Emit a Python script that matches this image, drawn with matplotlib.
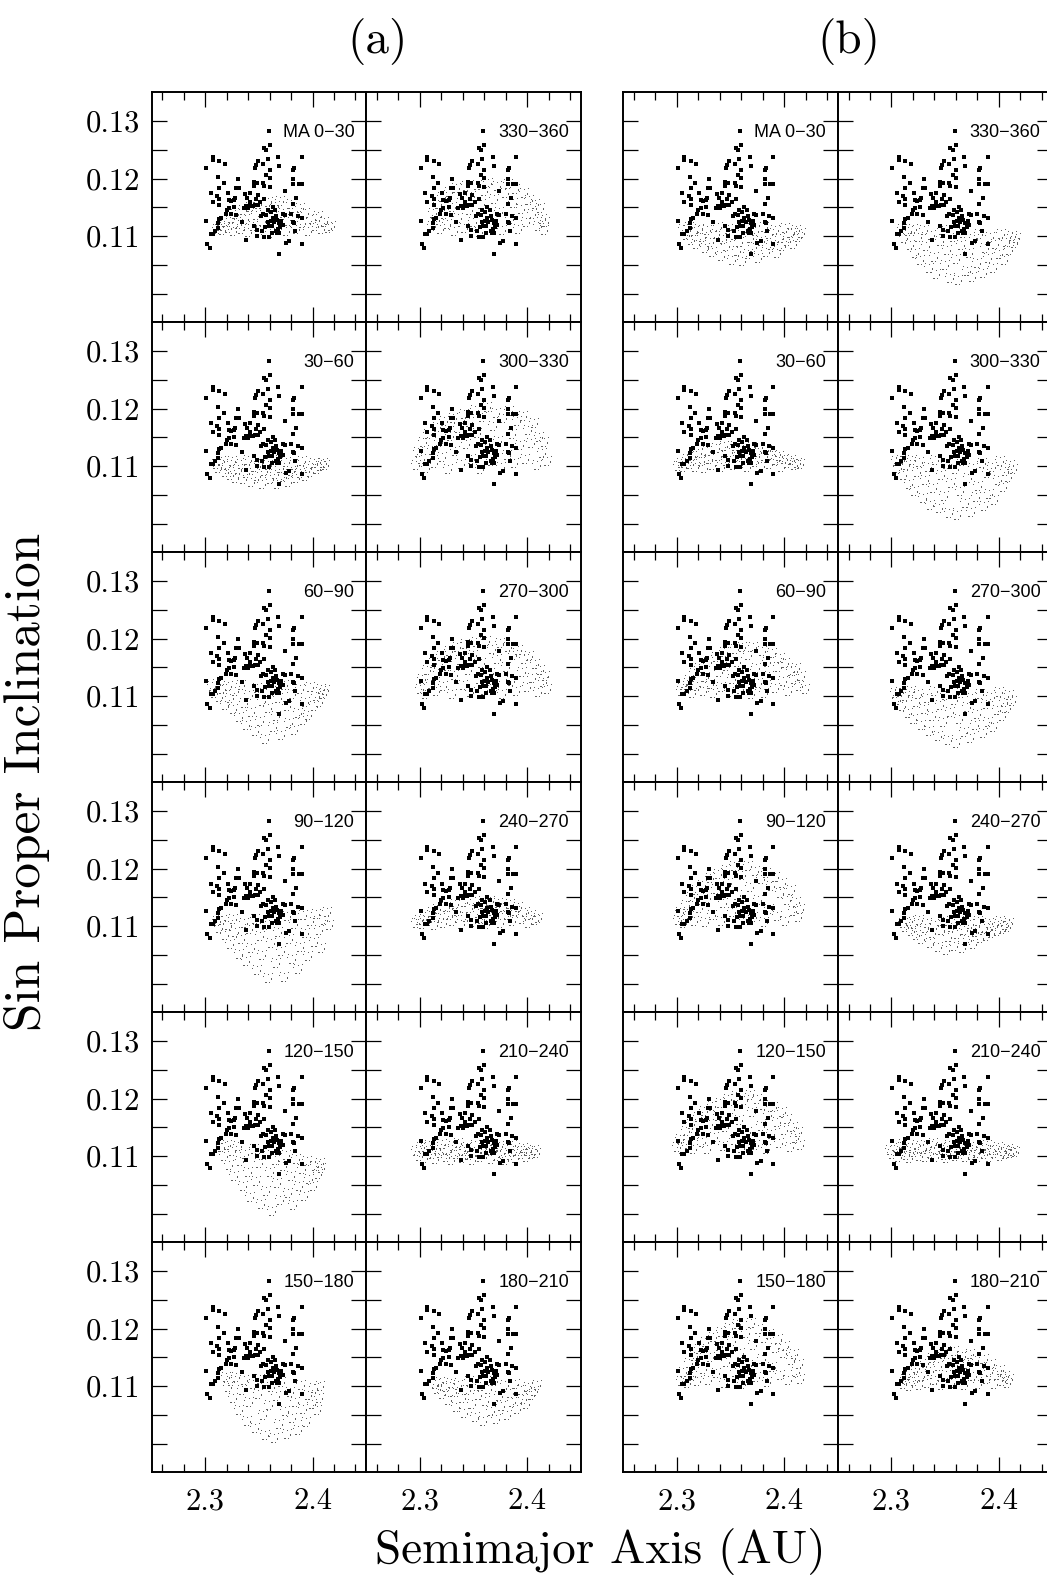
import matplotlib.pyplot as plt
from matplotlib.path import Path

plt.rcParams['font.family'] = ['cmr10', 'DejaVu Serif']
plt.rcParams['axes.unicode_minus'] = False
plt.rcParams['axes.formatter.use_mathtext'] = True

W, H = 1047, 1582

x_range = (2.25, 2.45)
y_range = (0.095, 0.135)
x_major = [2.3, 2.4]
x_major_labels = ['2.3', '2.4']
x_minor = [2.26, 2.28, 2.32, 2.34, 2.36, 2.38, 2.42, 2.44]
y_ticks = [0.100, 0.105, 0.110, 0.115, 0.120, 0.125, 0.130]
y_labels = ['', '', '0.11', '', '0.12', '', '0.13']

left_ma = ['MA 0\u221230', '30\u221260', '60\u221290', '90\u2212120', '120\u2212150', '150\u2212180']
right_ma = ['330\u2212360', '300\u2212330', '270\u2212300', '240\u2212270', '210\u2212240', '180\u2212210']

# family members (black squares), same in every panel
family = [
    (2.359, .1282), (2.360, .1259), (2.355, .1253), (2.357, .1250), (2.358, .1234), (2.368, .1237), (2.390, .1237),
    (2.307, .1237), (2.307, .1233), (2.313, .1230), (2.318, .1225), (2.301, .1219), (2.349, .1230), (2.347, .1223),
    (2.346, .1218), (2.354, .1225), (2.360, .1215), (2.369, .1222), (2.383, .1218), (2.382, .1215), (2.357, .1206),
    (2.312, .1202), (2.317, .1193), (2.330, .1199), (2.360, .1201), (2.345, .1194), (2.348, .1192), (2.345, .1187),
    (2.354, .1192), (2.355, .1187), (2.360, .1186), (2.382, .1200), (2.387, .1190), (2.390, .1190), (2.382, .1190),
    (2.313, .1183), (2.329, .1183), (2.331, .1183), (2.374, .1178), (2.305, .1174), (2.311, .1169), (2.313, .1164),
    (2.321, .1174), (2.337, .1173), (2.342, .1174), (2.349, .1171), (2.328, .1167), (2.322, .1162), (2.324, .1161),
    (2.327, .1162), (2.307, .1159), (2.313, .1154), (2.342, .1160), (2.351, .1159), (2.339, .1167), (2.347, .1164),
    (2.349, .1154), (2.346, .1154), (2.344, .1152), (2.385, .1167), (2.355, .1164), (2.363, .1150), (2.322, .1148),
    (2.320, .1145), (2.327, .1150), (2.336, .1148), (2.338, .1152), (2.340, .1149), (2.342, .1153), (2.382, .1155),
    (2.324, .1139), (2.319, .1138), (2.354, .1139), (2.357, .1137), (2.315, .1132), (2.313, .1129), (2.366, .1134),
    (2.372, .1138), (2.374, .1137), (2.380, .1138), (2.301, .1127), (2.386, .1134), (2.390, .1132), (2.358, .1125),
    (2.361, .1127), (2.364, .1125), (2.367, .1128), (2.369, .1123), (2.372, .1120), (2.312, .1123), (2.312, .1114),
    (2.382, .1125), (2.383, .1123), (2.359, .1118), (2.362, .1118), (2.345, .1118), (2.368, .1112), (2.370, .1116),
    (2.366, .1109), (2.348, .1110), (2.305, .1103), (2.307, .1103), (2.309, .1109), (2.362, .1106), (2.367, .1106),
    (2.369, .1105), (2.355, .1098), (2.359, .1098), (2.384, .1109), (2.375, .1088), (2.378, .1091), (2.390, .1087),
    (2.302, .1086), (2.304, .1080), (2.369, .1069), (2.353, .1108),
    (2.358, .1145), (2.361, .1142), (2.365, .1146), (2.352, .1135), (2.363, .1131), (2.356, .1116), (2.371, .1126),
    (2.334, .1125), (2.329, .1137), (2.348, .1100), (2.338, .1093),
]

# simulated members (grey dots), one cloud per mean-anomaly bin
# ---- group (a)
a_0_30 = [(2.311, .1112), (2.314, .1118), (2.316, .1110), (2.319, .1125), (2.321, .1114), (2.324, .1131), (2.326, .1108), (2.328, .1139), (2.330, .1121), (2.333, .1112), (2.335, .1146), (2.337, .1129), (2.340, .1107), (2.342, .1150), (2.344, .1118), (2.347, .1137), (2.349, .1156), (2.351, .1111), (2.353, .1127), (2.356, .1145), (2.358, .1160), (2.360, .1106), (2.362, .1133), (2.365, .1152), (2.367, .1117), (2.370, .1161), (2.372, .1140), (2.375, .1109), (2.377, .1126), (2.380, .1156), (2.382, .1134), (2.385, .1113), (2.388, .1148), (2.390, .1122), (2.393, .1140), (2.396, .1108), (2.399, .1130), (2.402, .1118), (2.405, .1134), (2.408, .1112), (2.411, .1124), (2.414, .1114), (2.417, .1118)]
a_330_360 = [(2.311, .1118), (2.312, .1140), (2.315, .1128), (2.317, .1155), (2.319, .1112), (2.321, .1168), (2.323, .1138), (2.325, .1121), (2.327, .1176), (2.330, .1150), (2.332, .1108), (2.334, .1183), (2.336, .1131), (2.339, .1162), (2.341, .1114), (2.343, .1187), (2.346, .1145), (2.348, .1170), (2.350, .1124), (2.353, .1189), (2.355, .1107), (2.357, .1156), (2.360, .1178), (2.362, .1135), (2.364, .1192), (2.367, .1118), (2.369, .1165), (2.372, .1187), (2.374, .1142), (2.377, .1110), (2.379, .1174), (2.382, .1190), (2.384, .1129), (2.387, .1158), (2.389, .1182), (2.392, .1113), (2.394, .1147), (2.397, .1175), (2.399, .1124), (2.402, .1163), (2.405, .1139), (2.407, .1156), (2.410, .1117), (2.412, .1148), (2.414, .1130), (2.416, .1110), (2.417, .1124)]
a_30_60 = [(2.310, .1104), (2.312, .1096), (2.315, .1108), (2.318, .1090), (2.320, .1101), (2.323, .1085), (2.325, .1109), (2.328, .1079), (2.330, .1095), (2.333, .1104), (2.335, .1077), (2.338, .1088), (2.340, .1110), (2.343, .1072), (2.345, .1098), (2.348, .1083), (2.350, .1106), (2.353, .1069), (2.355, .1091), (2.358, .1101), (2.360, .1077), (2.362, .1110), (2.365, .1086), (2.367, .1068), (2.370, .1097), (2.372, .1081), (2.375, .1107), (2.377, .1073), (2.380, .1092), (2.383, .1102), (2.385, .1079), (2.388, .1088), (2.390, .1109), (2.393, .1083), (2.396, .1097), (2.398, .1089), (2.401, .1105), (2.404, .1094), (2.407, .1100), (2.410, .1106), (2.412, .1102)]
a_300_330 = [(2.296, .1102), (2.298, .1124), (2.301, .1112), (2.303, .1141), (2.306, .1097), (2.308, .1155), (2.311, .1128), (2.313, .1106), (2.316, .1168), (2.318, .1141), (2.321, .1115), (2.323, .1178), (2.326, .1095), (2.328, .1152), (2.331, .1184), (2.333, .1127), (2.336, .1166), (2.338, .1103), (2.341, .1191), (2.343, .1139), (2.346, .1176), (2.348, .1112), (2.351, .1198), (2.353, .1158), (2.356, .1094), (2.358, .1185), (2.361, .1131), (2.363, .1202), (2.366, .1108), (2.368, .1169), (2.371, .1193), (2.373, .1144), (2.376, .1099), (2.378, .1183), (2.381, .1120), (2.383, .1195), (2.386, .1156), (2.388, .1105), (2.391, .1178), (2.393, .1136), (2.396, .1187), (2.398, .1113), (2.401, .1163), (2.404, .1140), (2.406, .1174), (2.409, .1101), (2.411, .1150), (2.414, .1122), (2.416, .1141), (2.419, .1108)]
a_60_90 = [(2.306, .1118), (2.308, .1106), (2.311, .1121), (2.313, .1099), (2.316, .1112), (2.318, .1085), (2.321, .1117), (2.323, .1097), (2.326, .1078), (2.328, .1108), (2.331, .1063), (2.333, .1120), (2.336, .1088), (2.338, .1049), (2.341, .1101), (2.343, .1072), (2.346, .1040), (2.348, .1114), (2.351, .1057), (2.353, .1092), (2.356, .1025), (2.358, .1079), (2.361, .1108), (2.363, .1046), (2.366, .1066), (2.368, .1097), (2.371, .1032), (2.373, .1119), (2.376, .1083), (2.378, .1053), (2.381, .1104), (2.383, .1041), (2.386, .1071), (2.388, .1112), (2.391, .1059), (2.393, .1090), (2.396, .1067), (2.398, .1116), (2.401, .1082), (2.403, .1100), (2.406, .1089), (2.408, .1113), (2.410, .1103), (2.412, .1110)]
a_270_300 = [(2.300, .1112), (2.302, .1130), (2.305, .1104), (2.307, .1145), (2.310, .1121), (2.312, .1158), (2.315, .1108), (2.317, .1140), (2.320, .1170), (2.322, .1117), (2.325, .1152), (2.327, .1179), (2.330, .1103), (2.332, .1136), (2.335, .1186), (2.337, .1163), (2.340, .1120), (2.342, .1190), (2.345, .1146), (2.347, .1107), (2.350, .1172), (2.352, .1194), (2.355, .1129), (2.357, .1158), (2.360, .1110), (2.362, .1196), (2.365, .1140), (2.367, .1181), (2.370, .1118), (2.372, .1165), (2.375, .1193), (2.377, .1103), (2.380, .1150), (2.382, .1186), (2.385, .1126), (2.387, .1172), (2.390, .1108), (2.392, .1180), (2.395, .1142), (2.397, .1164), (2.400, .1115), (2.402, .1170), (2.405, .1132), (2.407, .1155), (2.410, .1107), (2.412, .1146), (2.415, .1124), (2.417, .1135), (2.419, .1112)]
a_90_120 = [(2.311, .1108), (2.313, .1097), (2.316, .1111), (2.318, .1084), (2.321, .1102), (2.323, .1069), (2.326, .1112), (2.328, .1090), (2.331, .1052), (2.333, .1077), (2.336, .1106), (2.338, .1039), (2.341, .1095), (2.343, .1062), (2.346, .1113), (2.348, .1024), (2.351, .1083), (2.353, .1049), (2.356, .1101), (2.358, .1010), (2.361, .1070), (2.363, .1115), (2.366, .1036), (2.368, .1089), (2.371, .1057), (2.373, .1012), (2.376, .1117), (2.378, .1078), (2.381, .1043), (2.383, .1103), (2.386, .1025), (2.388, .1064), (2.391, .1119), (2.393, .1088), (2.396, .1048), (2.398, .1108), (2.401, .1072), (2.403, .1121), (2.406, .1093), (2.408, .1062), (2.411, .1110), (2.413, .1124), (2.415, .1102)]
a_240_270 = [(2.296, .1106), (2.299, .1111), (2.302, .1103), (2.305, .1118), (2.308, .1108), (2.311, .1124), (2.313, .1102), (2.316, .1130), (2.319, .1114), (2.322, .1105), (2.324, .1134), (2.327, .1120), (2.330, .1109), (2.333, .1139), (2.335, .1126), (2.338, .1103), (2.341, .1142), (2.343, .1116), (2.346, .1131), (2.349, .1107), (2.351, .1144), (2.354, .1122), (2.357, .1112), (2.359, .1138), (2.362, .1104), (2.365, .1143), (2.367, .1127), (2.370, .1115), (2.373, .1140), (2.375, .1106), (2.378, .1133), (2.381, .1119), (2.384, .1138), (2.386, .1109), (2.389, .1127), (2.392, .1134), (2.395, .1112), (2.398, .1124), (2.401, .1105), (2.404, .1119), (2.407, .1110), (2.410, .1114)]
a_120_150 = [(2.315, .1116), (2.317, .1100), (2.320, .1119), (2.322, .1085), (2.325, .1108), (2.327, .1066), (2.330, .1117), (2.332, .1092), (2.335, .1048), (2.337, .1104), (2.340, .1073), (2.342, .1028), (2.345, .1112), (2.347, .1056), (2.350, .1088), (2.352, .1017), (2.355, .1101), (2.357, .1040), (2.360, .1072), (2.362, .1004), (2.365, .1094), (2.367, .1053), (2.370, .1023), (2.372, .1082), (2.375, .1101), (2.377, .1036), (2.380, .1066), (2.382, .1015), (2.385, .1095), (2.387, .1048), (2.390, .1078), (2.392, .1031), (2.395, .1091), (2.397, .1060), (2.400, .1048), (2.402, .1083), (2.405, .1068), (2.407, .1088), (2.408, .1079)]
a_210_240 = [(2.296, .1108), (2.299, .1100), (2.301, .1115), (2.304, .1097), (2.306, .1110), (2.309, .1120), (2.311, .1103), (2.314, .1095), (2.316, .1113), (2.319, .1106), (2.321, .1121), (2.324, .1099), (2.326, .1111), (2.329, .1094), (2.331, .1117), (2.334, .1104), (2.336, .1122), (2.339, .1097), (2.341, .1109), (2.344, .1115), (2.346, .1101), (2.349, .1093), (2.351, .1119), (2.354, .1107), (2.356, .1098), (2.359, .1114), (2.361, .1103), (2.364, .1121), (2.366, .1095), (2.369, .1110), (2.371, .1100), (2.374, .1117), (2.376, .1106), (2.379, .1094), (2.381, .1112), (2.384, .1102), (2.386, .1119), (2.389, .1097), (2.391, .1109), (2.394, .1104), (2.396, .1114), (2.399, .1099), (2.401, .1108), (2.404, .1103), (2.406, .1111), (2.408, .1105)]
a_150_180 = [(2.319, .1115), (2.321, .1098), (2.324, .1108), (2.326, .1079), (2.329, .1116), (2.331, .1058), (2.334, .1094), (2.336, .1110), (2.339, .1040), (2.341, .1073), (2.344, .1103), (2.346, .1027), (2.349, .1086), (2.351, .1112), (2.354, .1050), (2.356, .1015), (2.359, .1067), (2.361, .1098), (2.364, .1010), (2.366, .1082), (2.369, .1034), (2.371, .1107), (2.374, .1056), (2.376, .1017), (2.379, .1090), (2.381, .1044), (2.384, .1072), (2.386, .1024), (2.389, .1102), (2.391, .1060), (2.394, .1038), (2.396, .1085), (2.399, .1068), (2.401, .1096), (2.404, .1058), (2.406, .1080), (2.407, .1100)]
a_180_210 = [(2.314, .1104), (2.316, .1095), (2.319, .1107), (2.321, .1086), (2.324, .1099), (2.326, .1075), (2.329, .1106), (2.331, .1090), (2.334, .1064), (2.336, .1101), (2.339, .1080), (2.341, .1054), (2.344, .1093), (2.346, .1108), (2.349, .1068), (2.351, .1046), (2.354, .1085), (2.356, .1100), (2.359, .1040), (2.361, .1074), (2.364, .1095), (2.366, .1057), (2.369, .1108), (2.371, .1043), (2.374, .1082), (2.376, .1066), (2.379, .1101), (2.381, .1050), (2.384, .1088), (2.386, .1072), (2.389, .1104), (2.391, .1060), (2.394, .1093), (2.396, .1078), (2.399, .1068), (2.401, .1099), (2.404, .1085), (2.406, .1092), (2.409, .1102)]
# ---- group (b)
b_0_30 = [(2.306, .1112), (2.308, .1102), (2.311, .1115), (2.313, .1094), (2.316, .1108), (2.318, .1086), (2.321, .1113), (2.323, .1099), (2.326, .1079), (2.328, .1110), (2.331, .1089), (2.333, .1073), (2.336, .1104), (2.338, .1116), (2.341, .1066), (2.343, .1095), (2.346, .1082), (2.348, .1112), (2.351, .1058), (2.353, .1101), (2.356, .1074), (2.358, .1090), (2.361, .1056), (2.363, .1114), (2.366, .1068), (2.368, .1097), (2.371, .1081), (2.373, .1108), (2.376, .1062), (2.378, .1092), (2.381, .1115), (2.383, .1073), (2.386, .1103), (2.388, .1085), (2.391, .1111), (2.393, .1070), (2.396, .1097), (2.398, .1082), (2.401, .1114), (2.403, .1092), (2.406, .1105), (2.408, .1087), (2.411, .1110), (2.413, .1099), (2.416, .1106)]
b_330_360 = [(2.310, .1112), (2.312, .1096), (2.315, .1108), (2.317, .1085), (2.320, .1113), (2.322, .1070), (2.325, .1099), (2.327, .1058), (2.330, .1110), (2.332, .1082), (2.335, .1044), (2.337, .1102), (2.340, .1063), (2.342, .1034), (2.345, .1091), (2.347, .1111), (2.350, .1049), (2.352, .1076), (2.355, .1027), (2.357, .1098), (2.360, .1060), (2.362, .1024), (2.365, .1085), (2.367, .1106), (2.370, .1039), (2.372, .1070), (2.375, .1028), (2.377, .1095), (2.380, .1053), (2.382, .1104), (2.385, .1035), (2.387, .1079), (2.390, .1062), (2.392, .1099), (2.395, .1045), (2.397, .1086), (2.400, .1069), (2.402, .1103), (2.405, .1058), (2.407, .1090), (2.410, .1076), (2.412, .1100), (2.414, .1088), (2.416, .1097)]
b_30_60 = [(2.301, .1100), (2.304, .1106), (2.306, .1098), (2.309, .1112), (2.312, .1103), (2.314, .1118), (2.317, .1099), (2.320, .1122), (2.322, .1108), (2.325, .1097), (2.328, .1127), (2.330, .1113), (2.333, .1102), (2.336, .1131), (2.338, .1118), (2.341, .1099), (2.344, .1134), (2.346, .1109), (2.349, .1124), (2.352, .1101), (2.354, .1135), (2.357, .1115), (2.360, .1106), (2.362, .1130), (2.365, .1098), (2.368, .1121), (2.370, .1133), (2.373, .1107), (2.376, .1125), (2.378, .1100), (2.381, .1117), (2.384, .1128), (2.386, .1104), (2.389, .1120), (2.392, .1110), (2.395, .1117), (2.397, .1099), (2.400, .1112), (2.403, .1105), (2.406, .1110), (2.409, .1101), (2.412, .1106), (2.415, .1103)]
b_300_330 = [(2.304, .1108), (2.306, .1096), (2.309, .1110), (2.311, .1084), (2.314, .1102), (2.316, .1068), (2.319, .1111), (2.321, .1056), (2.324, .1090), (2.326, .1107), (2.329, .1044), (2.331, .1075), (2.334, .1098), (2.336, .1033), (2.339, .1062), (2.341, .1111), (2.344, .1027), (2.346, .1084), (2.349, .1048), (2.351, .1103), (2.354, .1018), (2.356, .1070), (2.359, .1094), (2.361, .1014), (2.364, .1057), (2.366, .1109), (2.369, .1035), (2.371, .1079), (2.374, .1020), (2.376, .1097), (2.379, .1046), (2.381, .1065), (2.384, .1106), (2.386, .1031), (2.389, .1088), (2.391, .1052), (2.394, .1099), (2.396, .1041), (2.399, .1075), (2.401, .1108), (2.404, .1063), (2.406, .1092), (2.409, .1081), (2.411, .1102), (2.413, .1095)]
b_60_90 = [(2.304, .1108), (2.306, .1120), (2.309, .1112), (2.311, .1128), (2.314, .1105), (2.316, .1140), (2.319, .1118), (2.321, .1148), (2.324, .1109), (2.326, .1133), (2.329, .1160), (2.331, .1121), (2.334, .1106), (2.336, .1168), (2.339, .1141), (2.341, .1115), (2.344, .1176), (2.346, .1152), (2.349, .1107), (2.351, .1129), (2.354, .1182), (2.356, .1160), (2.359, .1112), (2.361, .1186), (2.364, .1138), (2.366, .1171), (2.369, .1104), (2.371, .1185), (2.374, .1148), (2.376, .1122), (2.379, .1178), (2.381, .1106), (2.384, .1160), (2.386, .1135), (2.389, .1174), (2.391, .1114), (2.394, .1150), (2.396, .1166), (2.399, .1127), (2.401, .1158), (2.404, .1108), (2.406, .1143), (2.409, .1130), (2.411, .1148), (2.414, .1117), (2.416, .1134), (2.419, .1112)]
b_270_300 = [(2.303, .1105), (2.305, .1093), (2.308, .1107), (2.310, .1082), (2.313, .1100), (2.315, .1070), (2.318, .1108), (2.320, .1060), (2.323, .1089), (2.325, .1104), (2.328, .1050), (2.330, .1077), (2.333, .1097), (2.335, .1040), (2.338, .1066), (2.340, .1109), (2.343, .1031), (2.345, .1085), (2.348, .1054), (2.350, .1101), (2.353, .1024), (2.355, .1072), (2.358, .1093), (2.360, .1019), (2.363, .1060), (2.365, .1106), (2.368, .1038), (2.370, .1081), (2.373, .1027), (2.375, .1097), (2.378, .1050), (2.380, .1069), (2.383, .1104), (2.385, .1036), (2.388, .1087), (2.390, .1055), (2.393, .1098), (2.395, .1046), (2.398, .1076), (2.400, .1107), (2.403, .1065), (2.405, .1090), (2.408, .1080), (2.410, .1101), (2.412, .1092)]
b_90_120 = [(2.301, .1110), (2.303, .1124), (2.306, .1106), (2.308, .1137), (2.311, .1118), (2.313, .1150), (2.316, .1109), (2.318, .1162), (2.321, .1131), (2.323, .1172), (2.326, .1107), (2.328, .1149), (2.331, .1183), (2.333, .1120), (2.336, .1165), (2.338, .1191), (2.341, .1108), (2.343, .1140), (2.346, .1198), (2.348, .1175), (2.351, .1125), (2.353, .1204), (2.356, .1154), (2.358, .1106), (2.361, .1189), (2.363, .1137), (2.366, .1205), (2.368, .1168), (2.371, .1115), (2.373, .1196), (2.376, .1146), (2.378, .1181), (2.381, .1107), (2.383, .1193), (2.386, .1130), (2.388, .1170), (2.391, .1185), (2.393, .1118), (2.396, .1157), (2.398, .1175), (2.401, .1109), (2.403, .1145), (2.406, .1163), (2.408, .1126), (2.411, .1142), (2.413, .1115), (2.415, .1130)]
b_240_270 = [(2.311, .1106), (2.313, .1098), (2.316, .1109), (2.318, .1091), (2.321, .1103), (2.323, .1084), (2.326, .1110), (2.328, .1077), (2.331, .1096), (2.333, .1106), (2.336, .1071), (2.338, .1088), (2.341, .1101), (2.343, .1064), (2.346, .1093), (2.348, .1109), (2.351, .1059), (2.353, .1081), (2.356, .1099), (2.358, .1066), (2.361, .1087), (2.363, .1108), (2.366, .1062), (2.368, .1094), (2.371, .1075), (2.373, .1103), (2.376, .1068), (2.378, .1090), (2.381, .1109), (2.383, .1079), (2.386, .1097), (2.388, .1083), (2.391, .1105), (2.393, .1088), (2.396, .1100), (2.398, .1091), (2.401, .1108), (2.403, .1095), (2.406, .1102), (2.408, .1098), (2.410, .1105)]
b_120_150 = [(2.300, .1115), (2.303, .1130), (2.305, .1112), (2.308, .1144), (2.310, .1121), (2.313, .1156), (2.315, .1113), (2.318, .1138), (2.320, .1168), (2.323, .1124), (2.325, .1178), (2.328, .1112), (2.330, .1155), (2.333, .1187), (2.335, .1133), (2.338, .1170), (2.340, .1193), (2.343, .1117), (2.345, .1150), (2.348, .1200), (2.350, .1181), (2.353, .1128), (2.355, .1205), (2.358, .1163), (2.360, .1114), (2.363, .1197), (2.365, .1141), (2.368, .1206), (2.370, .1176), (2.373, .1120), (2.375, .1199), (2.378, .1152), (2.380, .1188), (2.383, .1113), (2.385, .1172), (2.388, .1138), (2.390, .1186), (2.393, .1160), (2.395, .1122), (2.398, .1176), (2.400, .1145), (2.403, .1165), (2.405, .1116), (2.408, .1150), (2.410, .1132), (2.413, .1142), (2.415, .1120)]
b_210_240 = [(2.299, .1110), (2.301, .1103), (2.304, .1116), (2.306, .1099), (2.309, .1108), (2.311, .1121), (2.314, .1102), (2.316, .1097), (2.319, .1114), (2.321, .1107), (2.324, .1120), (2.326, .1100), (2.329, .1112), (2.331, .1098), (2.334, .1118), (2.336, .1105), (2.339, .1122), (2.341, .1099), (2.344, .1110), (2.346, .1116), (2.349, .1102), (2.351, .1097), (2.354, .1119), (2.356, .1108), (2.359, .1100), (2.361, .1115), (2.364, .1104), (2.366, .1121), (2.369, .1098), (2.371, .1111), (2.374, .1101), (2.376, .1117), (2.379, .1106), (2.381, .1098), (2.384, .1113), (2.386, .1103), (2.389, .1119), (2.391, .1099), (2.394, .1110), (2.396, .1105), (2.399, .1115), (2.401, .1100), (2.404, .1109), (2.406, .1104), (2.409, .1112), (2.411, .1106), (2.413, .1109), (2.415, .1107)]
b_150_180 = [(2.304, .1108), (2.306, .1125), (2.309, .1105), (2.311, .1140), (2.314, .1117), (2.316, .1152), (2.319, .1108), (2.321, .1165), (2.324, .1130), (2.326, .1176), (2.329, .1111), (2.331, .1150), (2.334, .1186), (2.336, .1122), (2.339, .1169), (2.341, .1194), (2.344, .1106), (2.346, .1142), (2.349, .1201), (2.351, .1178), (2.354, .1125), (2.356, .1208), (2.359, .1157), (2.361, .1104), (2.364, .1193), (2.366, .1136), (2.369, .1210), (2.371, .1172), (2.374, .1115), (2.376, .1200), (2.379, .1147), (2.381, .1184), (2.384, .1107), (2.386, .1191), (2.389, .1133), (2.391, .1166), (2.394, .1182), (2.396, .1119), (2.399, .1158), (2.401, .1170), (2.404, .1110), (2.406, .1145), (2.409, .1155), (2.411, .1124), (2.414, .1138), (2.415, .1112)]
b_180_210 = [(2.311, .1104), (2.313, .1113), (2.316, .1100), (2.318, .1122), (2.321, .1108), (2.323, .1131), (2.326, .1102), (2.328, .1117), (2.331, .1140), (2.333, .1106), (2.336, .1126), (2.338, .1148), (2.341, .1111), (2.343, .1135), (2.346, .1101), (2.348, .1155), (2.351, .1120), (2.353, .1142), (2.356, .1106), (2.358, .1161), (2.361, .1129), (2.363, .1113), (2.366, .1152), (2.368, .1101), (2.371, .1138), (2.373, .1156), (2.376, .1118), (2.378, .1145), (2.381, .1104), (2.383, .1133), (2.386, .1147), (2.388, .1112), (2.391, .1125), (2.393, .1138), (2.396, .1103), (2.398, .1120), (2.401, .1128), (2.403, .1109), (2.406, .1118), (2.408, .1106), (2.410, .1112)]

groups = [
    [[a_0_30, a_30_60, a_60_90, a_90_120, a_120_150, a_150_180],
     [a_330_360, a_300_330, a_270_300, a_240_270, a_210_240, a_180_210]],
    [[b_0_30, b_30_60, b_60_90, b_90_120, b_120_150, b_150_180],
     [b_330_360, b_300_330, b_270_300, b_240_270, b_210_240, b_180_210]],
]
ma_labels = [left_ma, right_ma]

fam_a = [p[0] for p in family]
fam_s = [p[1] for p in family]

# stipple marker: a few pixel-sized specks, so the grey clouds look speckled
specks = [(-0.42, 0.12), (-0.18, -0.38), (0.02, 0.30), (0.30, -0.08), (0.40, 0.40), (-0.30, 0.42), (0.12, -0.42)]
d = 0.055
verts, codes = [], []
for sx, sy in specks:
    verts += [(sx - d, sy - d), (sx + d, sy - d), (sx + d, sy + d), (sx - d, sy + d), (sx - d, sy - d)]
    codes += [Path.MOVETO, Path.LINETO, Path.LINETO, Path.LINETO, Path.CLOSEPOLY]
stipple = Path(verts, codes)

fig = plt.figure(figsize=(W / 100, H / 100), dpi=100)

group_left = [151.7, 623.3]
pw, ph, top = 214.5, 230.0, 92.3

for g in range(2):
    for c in range(2):
        for r in range(6):
            x0 = group_left[g] + c * pw
            y0 = H - top - (r + 1) * ph
            ax = fig.add_axes([x0 / W, y0 / H, pw / W, ph / H])
            cloud = groups[g][c][r]
            ax.scatter([p[0] for p in cloud], [p[1] for p in cloud], s=60, marker=stipple,
                       c='#606060', linewidths=0, zorder=2)
            ax.scatter(fam_a, fam_s, s=7, marker='s', c='black', linewidths=0, zorder=3)
            ax.set_xlim(x_range)
            ax.set_ylim(y_range)
            ax.set_xticks(x_major)
            ax.set_xticks(x_minor, minor=True)
            ax.set_yticks(y_ticks)
            ax.tick_params(which='both', direction='in', top=True, right=True, width=0.9)
            ax.tick_params(which='major', length=11)
            ax.tick_params(which='minor', length=5.5)
            for sp in ax.spines.values():
                sp.set_linewidth(1.4)
            if r == 5:
                ax.set_xticklabels(x_major_labels, fontsize=22)
                ax.tick_params(axis='x', pad=11)
            else:
                ax.set_xticklabels([])
            if g == 0 and c == 0:
                ax.set_yticklabels(y_labels, fontsize=22)
                ax.tick_params(axis='y', pad=8)
            else:
                ax.set_yticklabels([])
            ax.text(0.945, 0.826, ma_labels[c][r], transform=ax.transAxes, ha='right',
                    va='center', fontsize=13, family=['Liberation Sans', 'DejaVu Sans'])

fig.text(0.026, 0.506, 'Sin Proper Inclination', rotation=90, ha='center', va='center', fontsize=37)
fig.text(0.573, 0.012, 'Semimajor Axis (AU)', ha='center', va='baseline', fontsize=34)
fig.text(0.361, 0.974, '(a)', ha='center', va='center', fontsize=34)
fig.text(0.811, 0.974, '(b)', ha='center', va='center', fontsize=34)

fig.savefig('out.png', dpi=100)
